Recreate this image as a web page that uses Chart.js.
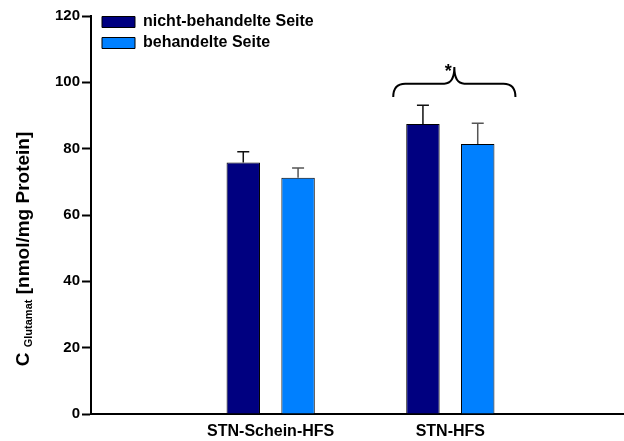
<!DOCTYPE html>
<html>
<head>
<meta charset="utf-8">
<script src="https://cdn.jsdelivr.net/npm/chart.js@4"></script>
<style>
  html, body { margin: 0; padding: 0; background: #fff; }
  #wrap { width: 624px; height: 441px; overflow: hidden; }
  #lienzo { width: 630px; height: 441px; }
</style>
</head>
<body>
<div id="wrap"><div id="lienzo"><canvas id="grafica"></canvas></div></div>
<script>
// datos
const categorias = ['', 'STN-Schein-HFS', 'STN-HFS', ''];
const nichtBehandelt = [null, 75.8, 87.4, null];
const nichtBehandeltFehler = [null, 3.3, 5.7, null];
const behandelt = [null, 71.2, 81.4, null];
const behandeltFehler = [null, 3.0, 6.3, null];
const yTicks = [0, 20, 40, 60, 80, 100, 120];
// signifikanz: gruppe, hoehe der klammer
const signifikanz = [{ gruppe: 2, nivel: 99.6, texto: '*' }];

const fuente = 'Arial, "Liberation Sans", sans-serif';

// fehlerbalken nur nach oben
const pluginFehler = {
    id: 'fehler',
    afterDatasetsDraw(chart) {
        const ctx = chart.ctx;
        const y = chart.scales.y;
        const listas = [nichtBehandeltFehler, behandeltFehler];
        const colores = ['#111', '#555'];
        chart.data.datasets.forEach((ds, i) => {
            const meta = chart.getDatasetMeta(i);
            meta.data.forEach((bar, j) => {
                const v = ds.data[j];
                const e = listas[i][j];
                if (v == null || e == null) return;
                const yTop = y.getPixelForValue(v + e);
                ctx.save();
                ctx.strokeStyle = colores[i];
                ctx.lineWidth = 1.5;
                ctx.beginPath();
                ctx.moveTo(bar.x, bar.y);
                ctx.lineTo(bar.x, yTop);
                ctx.moveTo(bar.x - 6, yTop);
                ctx.lineTo(bar.x + 6, yTop);
                ctx.stroke();
                ctx.restore();
            });
        });
    }
};

// geschweifte klammer mit stern
const pluginKlammer = {
    id: 'klammer',
    afterDraw(chart) {
        const ctx = chart.ctx;
        const x = chart.scales.x;
        const y = chart.scales.y;
        signifikanz.forEach(s => {
            const paso = x.getPixelForValue(1) - x.getPixelForValue(0);
            const cx = x.getPixelForValue(s.gruppe) + 4;
            const half = paso * 0.34;
            const yl = y.getPixelForValue(s.nivel);
            const yEnd = y.getPixelForValue(s.nivel - 4);
            const yPeak = y.getPixelForValue(s.nivel + 5);
            ctx.save();
            ctx.strokeStyle = '#000';
            ctx.lineWidth = 2;
            ctx.beginPath();
            ctx.moveTo(cx - half, yEnd);
            ctx.quadraticCurveTo(cx - half, yl, cx - half + 12, yl);
            ctx.lineTo(cx - 10, yl);
            ctx.quadraticCurveTo(cx, yl, cx, yPeak);
            ctx.quadraticCurveTo(cx, yl, cx + 10, yl);
            ctx.lineTo(cx + half - 12, yl);
            ctx.quadraticCurveTo(cx + half, yl, cx + half, yEnd);
            ctx.stroke();
            ctx.fillStyle = '#000';
            ctx.font = 'bold 18px ' + fuente;
            ctx.textAlign = 'center';
            ctx.textBaseline = 'middle';
            ctx.fillText(s.texto, cx - 6, yPeak + 5);
            ctx.restore();
        });
    }
};

// achsentitel mit tiefgestelltem text
const pluginTitel = {
    id: 'titel',
    afterDraw(chart) {
        const ctx = chart.ctx;
        const area = chart.chartArea;
        const partes = [
            { t: 'C ', f: 'bold 19px ' + fuente, d: 0 },
            { t: 'Glutamat', f: 'bold 11px ' + fuente, d: 3 },
            { t: ' [nmol/mg Protein]', f: 'bold 19px ' + fuente, d: 0 }
        ];
        let total = 0;
        partes.forEach(p => { ctx.font = p.f; p.w = ctx.measureText(p.t).width; total += p.w; });
        ctx.save();
        ctx.translate(29, (area.top + area.bottom) / 2 + 34);
        ctx.rotate(-Math.PI / 2);
        ctx.fillStyle = '#000';
        ctx.textBaseline = 'alphabetic';
        ctx.textAlign = 'left';
        let pos = -total / 2;
        partes.forEach(p => {
            ctx.font = p.f;
            ctx.fillText(p.t, pos, p.d);
            pos += p.w;
        });
        ctx.restore();
    }
};

// legende oben links im diagramm
const pluginLegende = {
    id: 'legendeVerschieben',
    afterLayout(chart) {
        chart.legend.top = chart.chartArea.top - 7;
        chart.legend.left = chart.chartArea.left + 6;
    }
};

const ctx = document.getElementById('grafica').getContext('2d');
new Chart(ctx, {
    type: 'bar',
    data: {
        labels: categorias,
        datasets: [
            {
                label: 'nicht-behandelte Seite',
                data: nichtBehandelt,
                backgroundColor: '#000080',
                borderColor: '#000',
                borderWidth: 1,
                categoryPercentage: 0.61,
                barPercentage: 0.61
            },
            {
                label: 'behandelte Seite',
                data: behandelt,
                backgroundColor: '#0080FF',
                borderColor: '#000',
                borderWidth: 1,
                categoryPercentage: 0.61,
                barPercentage: 0.61
            }
        ]
    },
    options: {
        responsive: true,
        maintainAspectRatio: false,
        animation: false,
        layout: { padding: { left: 0, top: 16, right: 0, bottom: 0 } },
        plugins: {
            legend: {
                position: 'chartArea',
                align: 'start',
                labels: {
                    boxWidth: 33,
                    boxHeight: 11,
                    padding: 5,
                    color: '#000',
                    font: { family: fuente, size: 16, weight: 'bold' }
                }
            },
            tooltip: { enabled: false },
            title: { display: false }
        },
        scales: {
            x: {
                offset: false,
                grid: { display: true, drawOnChartArea: false, drawTicks: true, tickLength: 8, tickColor: 'rgba(0,0,0,0)' },
                border: { color: '#000', width: 2 },
                ticks: {
                    color: '#000',
                    padding: 0,
                    autoSkip: false,
                    maxRotation: 0,
                    font: { family: fuente, size: 16, weight: 'bold' }
                },
                afterFit(scale) { scale.height = 27; }
            },
            y: {
                min: 0,
                max: 120,
                afterBuildTicks(scale) { scale.ticks = yTicks.map(v => ({ value: v })); },
                grid: { drawOnChartArea: false, drawTicks: true, tickLength: 9, tickWidth: 2, tickColor: '#000' },
                border: { color: '#000', width: 2 },
                ticks: {
                    color: '#000',
                    padding: 2,
                    font: { family: fuente, size: 15, weight: 'bold' }
                },
                afterFit(scale) { scale.width = 91; }
            }
        }
    },
    plugins: [pluginFehler, pluginKlammer, pluginTitel, pluginLegende]
});
</script>
</body>
</html>
